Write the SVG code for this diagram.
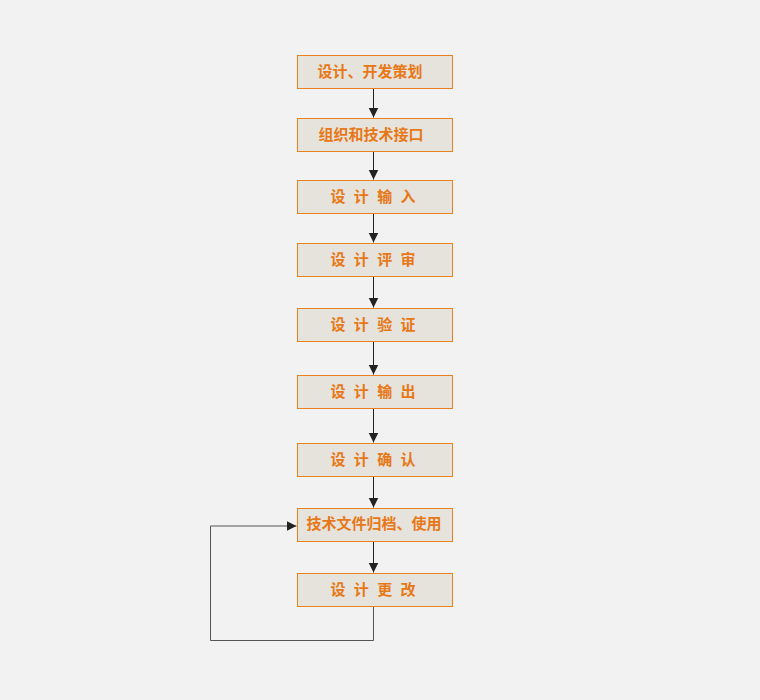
<svg xmlns="http://www.w3.org/2000/svg" width="760" height="700" viewBox="0 0 760 700">
<defs>
<style>
.box{fill:#e6e2dc;stroke:#e8821e;stroke-width:1}
.lbl{font-family:"Noto Sans CJK SC","Noto Sans",sans-serif;font-size:15px;font-weight:bold;fill:#e67817;text-anchor:middle;dominant-baseline:central}
.sp{word-spacing:5px}
.ln{fill:none;stroke:#222;stroke-width:1}
.lp{fill:none;stroke:#555;stroke-width:1}
</style>
<marker id="ah" markerWidth="10" markerHeight="11" refX="10" refY="5" orient="auto" markerUnits="userSpaceOnUse">
<path d="M0,0 L10,5 L0,10 z" fill="#222"/>
</marker>
</defs>
<rect width="760" height="700" fill="#f2f2f2"/>
<g id="connectors">
<line class="ln" x1="373.5" y1="88.5" x2="373.5" y2="117.5" marker-end="url(#ah)"/>
<line class="ln" x1="373.5" y1="151.5" x2="373.5" y2="179.5" marker-end="url(#ah)"/>
<line class="ln" x1="373.5" y1="213.5" x2="373.5" y2="242.5" marker-end="url(#ah)"/>
<line class="ln" x1="373.5" y1="276.5" x2="373.5" y2="307.5" marker-end="url(#ah)"/>
<line class="ln" x1="373.5" y1="341.5" x2="373.5" y2="374.5" marker-end="url(#ah)"/>
<line class="ln" x1="373.5" y1="408.5" x2="373.5" y2="442.5" marker-end="url(#ah)"/>
<line class="ln" x1="373.5" y1="476.5" x2="373.5" y2="507.5" marker-end="url(#ah)"/>
<line class="ln" x1="373.5" y1="541.5" x2="373.5" y2="572.5" marker-end="url(#ah)"/>
<path class="lp" d="M373.5,606.5 V640.5 H210.5 V526 H296.5" marker-end="url(#ah)"/>
</g>
<g id="n1"><rect class="box" x="297.5" y="55.5" width="155" height="33"/><text class="lbl" x="370" y="70.5">设计、开发策划</text></g>
<g id="n2"><rect class="box" x="297.5" y="118.5" width="155" height="33"/><text class="lbl" x="371" y="133.5">组织和技术接口</text></g>
<g id="n3"><rect class="box" x="297.5" y="180.5" width="155" height="33"/><text class="lbl sp" x="373" y="195.5">设 计 输 入</text></g>
<g id="n4"><rect class="box" x="297.5" y="243.5" width="155" height="33"/><text class="lbl sp" x="373" y="258.5">设 计 评 审</text></g>
<g id="n5"><rect class="box" x="297.5" y="308.5" width="155" height="33"/><text class="lbl sp" x="373" y="323.5">设 计 验 证</text></g>
<g id="n6"><rect class="box" x="297.5" y="375.5" width="155" height="33"/><text class="lbl sp" x="373" y="390.5">设 计 输 出</text></g>
<g id="n7"><rect class="box" x="297.5" y="443.5" width="155" height="33"/><text class="lbl sp" x="373" y="458.5">设 计 确 认</text></g>
<g id="n8"><rect class="box" x="297.5" y="508.5" width="155" height="33"/><text class="lbl" x="374" y="522.5">技术文件归档、使用</text></g>
<g id="n9"><rect class="box" x="297.5" y="573.5" width="155" height="33"/><text class="lbl sp" x="373" y="588.5">设 计 更 改</text></g>
</svg>
